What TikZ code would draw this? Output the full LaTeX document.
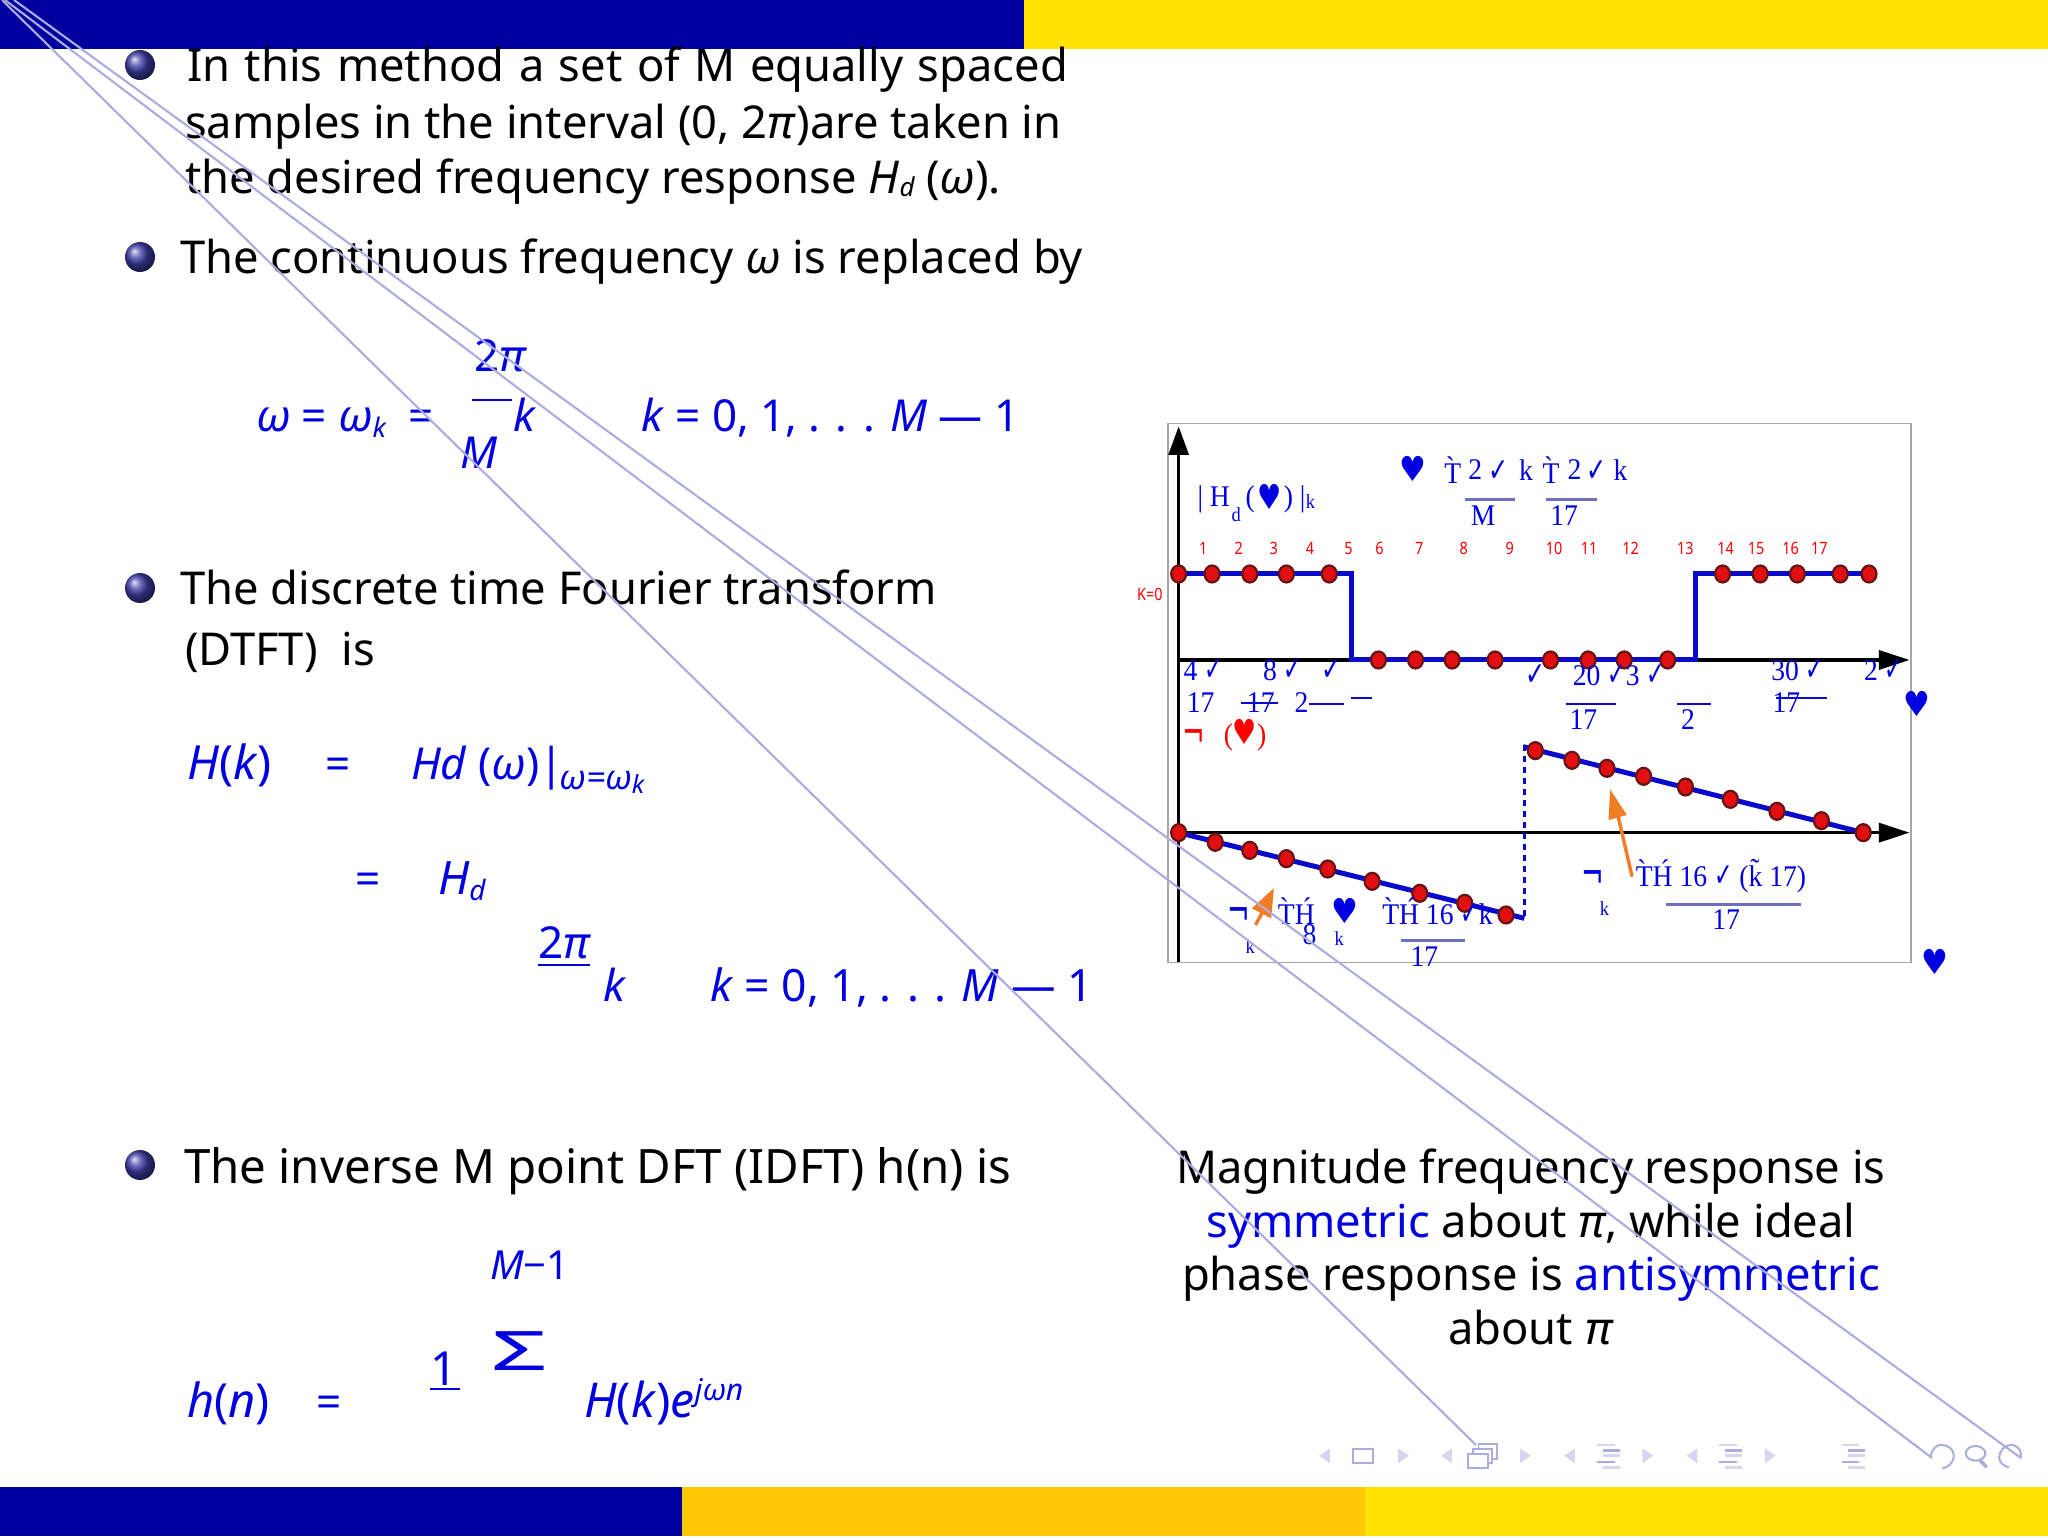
\documentclass[tikz,border=0pt]{standalone}
\usepackage{fontspec}
\usepackage{graphicx}
\usetikzlibrary{shapes.geometric}
\setmainfont{Noto Sans}
\newfontfamily\ser{Liberation Serif}
\newfontfamily\djv{DejaVu Sans}
\definecolor{navy}{RGB}{0,0,160}
\definecolor{gold}{RGB}{255,225,0}
\definecolor{amber}{RGB}{255,200,5}
\definecolor{ink}{RGB}{0,0,225}
\definecolor{plotblue}{RGB}{10,10,205}
\definecolor{lav}{RGB}{172,172,222}
\definecolor{lavl}{RGB}{214,214,238}
\definecolor{arrowor}{RGB}{240,125,35}
\definecolor{dotedge}{RGB}{100,20,20}
\definecolor{dotfill}{RGB}{225,15,15}
\definecolor{fatc}{RGB}{110,110,195}
\definecolor{ballc}{RGB}{62,62,170}
\newcount\tn
\newcommand{\fs}[1]{\fontsize{#1}{#1}\selectfont}
\newcommand{\body}{\fs{45.3}}
\newcommand{\mth}{\fs{44}}
\newcommand{\tx}[4][]{\global\advance\tn by 1 \node[txt,#1] (t\the\tn) at (#2,#3) {#4};}
\newcommand{\pl}[4][]{\global\advance\tn by 1 \node[ptxt,#1] (t\the\tn) at (#2,#3) {#4};}
\newcommand{\nar}[2][.92]{\scalebox{#1}[1]{#2}}
\newcommand{\ck}{{\djv\scalebox{.8}[1.1]{✓}}}
\newcommand{\hrt}{{\djv ♥}}
\newcommand{\hook}{{\djv\scalebox{.9}[1.5]{¬}}}
\newcommand{\navL}[2]{\fill[#2] (#1,85)--(#1,130)--(#1-22,107)--cycle;}
\newcommand{\navR}[2]{\fill[#2] (#1,85)--(#1,130)--(#1+22,107)--cycle;}
\newcommand{\navS}[2]{\foreach \yy/\xa/\xb/\cc in {75/0/35/lavl,91/12/47/#2,107/12/47/lavl,126/0/35/#2,142/12/47/lavl}
  {\fill[\cc] (#1+\xa,\yy-4) rectangle (#1+\xb,\yy+4);}}
\tikzset{
  txt/.style={anchor=base west,inner sep=0pt,outer sep=0pt,text=black,font=\body},
  mtxt/.style={txt,font=\mth,text=ink},
  ptxt/.style={anchor=center,inner sep=0pt,outer sep=0pt,text=ink,font=\ser\fs{30}},
  rednum/.style={ptxt,text=red,font=\fs{17}},
  axisline/.style={line width=3.4pt,black},
  curve/.style={line width=5pt,plotblue},
  bar/.style={line width=1.8pt,plotblue},
  fatbar/.style={line width=3pt,fatc},
  dot/.style={ellipse,draw=dotedge,fill=dotfill,line width=2.2pt,minimum width=15pt,minimum height=17pt,inner sep=0pt},
  ball/.style={circle,ball color=ballc,minimum size=30pt,inner sep=0pt},
  wire/.style={line width=2.1pt,lav}
}
\begin{document}
\begin{tikzpicture}[x=1pt,y=-1pt]
\useasboundingbox (0,0) rectangle (2048,1538);
\fill[white] (0,0) rectangle (2048,1538);
% bars
\fill[navy] (0,0) rectangle (1024,49);
\fill[gold] (1024,0) rectangle (2048,49);
\fill[navy] (0,1487) rectangle (682,1536);
\fill[amber] (682,1487) rectangle (1365,1536);
\fill[gold] (1365,1487) rectangle (2048,1536);
% bullets
\node[ball] (b1) at (140,65) {};
\node[ball] (b2) at (140,257) {};
\node[ball] (b3) at (140,588) {};
\node[ball] (b4) at (140,1165) {};
% left text
\tx{187}{82}{\makebox[881pt][s]{In this method a set of M equally spaced}}
\tx{185}{138.5}{samples in the interval (0, 2\textit{π})are taken in}
\tx{185}{193.5}{the desired frequency response \textit{H\raisebox{-3pt}{\fs{26}d}} (\textit{ω}).}
\tx{180}{274}{The continuous frequency \textit{ω} is replaced by}
\tx{180}{604}{The discrete time Fourier transform}
\tx{185}{665}{(DTFT)\ \ is}
\tx[font=\fs{47.4}]{184}{1183}{The inverse M point DFT (IDFT) h(n) is}
% formula 1
\tx[mtxt]{256}{431}{\textit{ω} = \textit{ω\raisebox{-6pt}{\fs{27}k}}\ \ =}
\tx[mtxt]{474}{371}{2\textit{π}}
\tx[mtxt]{513}{431}{\textit{k}}
\tx[mtxt]{460}{468}{\textit{M}}
\draw[ink,line width=1.3pt] (472,400) -- (512,400);
\tx[mtxt]{641}{431}{\textit{k} = 0, 1, . . . \textit{M} --- 1}
% formula 2
\tx[mtxt,font=\fs{47}]{187}{779}{\textit{H}(\textit{k})}
\tx[mtxt]{325}{779}{=}
\tx[mtxt]{411}{779}{\textit{Hd} (\textit{ω})|\kern-4pt\raisebox{-10pt}{\fs{34}\textit{ω=ω\raisebox{-4pt}{\fs{25}k}}}}
\tx[mtxt]{355}{894}{=}
\tx[mtxt,font=\fs{46}]{438}{894}{\textit{H\raisebox{-6pt}{\fs{28}d}}}
\tx[mtxt]{538}{958}{2\textit{π}}
\draw[ink,line width=1.6pt] (538,965) -- (590,965);
\tx[mtxt]{603}{1001}{\textit{k}}
\tx[mtxt,font=\fs{44.5}]{710}{1001}{\textit{k} = 0, 1, . . . \textit{M} --- 1}
% formula 3
\tx[mtxt,font=\fs{47}]{187}{1417}{\textit{h}(\textit{n})}
\tx[mtxt]{316}{1417}{=}
\tx[mtxt,font=\fs{40}]{490}{1279}{\textit{M}−1}
\tx[mtxt,font=\fs{47}]{430}{1385}{1}
\draw[ink,line width=1.6pt] (430,1389) -- (460,1389);
\tx[mtxt]{491}{1370}{\scalebox{2.9}[1.6]{\fs{34}Σ}}
\tx[mtxt,font=\fs{48}]{584}{1417}{\textit{H}(\textit{k})\textit{e\raisebox{17pt}{\fs{30}jωn}}}
% caption
\tx[anchor=base]{1531}{1183}{Magnitude frequency response is}
\tx[anchor=base]{1531}{1237}{\textcolor{ink}{symmetric} about \textit{π}, while ideal}
\tx[anchor=base]{1531}{1290}{phase response is \textcolor{ink}{antisymmetric}}
\tx[anchor=base]{1531}{1344}{about \textit{π}}
% plot, upper half, coordinates of crop
\begin{scope}[shift={(1130,410)},x=0.523pt,y=-0.3333pt]
\draw[color=gray!70,line width=1.4pt] (73,40) rectangle (1493,1657);
\draw[axisline] (93,120) -- (93,1657);
\fill[black] (93,50) -- (113,135) -- (73,135) -- cycle;
\draw[axisline] (93,750) -- (1440,750);
\fill[black] (1432,720) -- (1490,750) -- (1432,780) -- cycle;
\draw[curve] (93,492) -- (424,492) -- (424,750) -- (1082,750) -- (1082,492) -- (1413,492);
\foreach \x in {93,157,229,299,381,1133,1205,1276,1358,1413} \node[dot] (u\x) at (\x,492) {};
\foreach \x in {475,546,616,698,804,876,945,1028} \node[dot] (v\x) at (\x,750) {};
\foreach \x/\l in {140/1,208/2,275/3,344/4,418/5,477/6,553/7,638/8,726/9,811/10,878/11,957/12,1062/13,1139/14,1197/15,1263/16,1318/17}
  \node[rednum] (n\l) at (\x,415) {\nar[.85]{\l}};
\pl[rednum]{38}{553}{\nar[.85]{K=0}}
\pl{541}{178}{\scalebox{1}[1.15]{\hrt}}
\pl{617}{180}{\nar{T̀}}
\pl{660}{180}{\nar{2}}
\pl{705}{182}{\ck}
\pl{757}{180}{\nar{k}}
\pl{805}{180}{\nar{T̀}}
\pl{850}{180}{\nar{2}}
\pl{892}{182}{\ck}
\pl{938}{180}{\nar{k}}
\draw[fatbar] (640,269) -- (737,269);
\draw[fatbar] (795,269) -- (893,269);
\pl{675}{318}{\nar{M}}
\pl{830}{318}{\nar{17}}
\pl{160}{268}{\nar{| H}}
\pl[font=\ser\fs{20}]{203}{315}{\nar{d}}
\pl{230}{268}{\nar{(}}
\pl{267}{260}{\scalebox{.9}[1.15]{\hrt}}
\pl{303}{268}{\nar{)}}
\pl{330}{268}{\nar{|}}
\pl[font=\ser\fs{20}]{345}{275}{\nar{k}}
\pl{140}{780}{\nar{4 \ck}}
\pl{292}{780}{\nar{8 \ck}}
\pl{385}{780}{\ck}
\pl{775}{795}{\ck}
\pl{935}{795}{\nar{20 \ck3 \ck}}
\pl{1277}{780}{\nar{30 \ck}}
\pl{1441}{780}{\nar{2 \ck}}
\pl{135}{877}{\nar{17}}
\pl{250}{877}{\nar{17}}
\draw[bar] (213,880) -- (283,880);
\pl{328}{877}{\nar{2}}
\draw[bar] (343,882) -- (410,882);
\draw[bar] (422,863) -- (462,863);
\pl{867}{930}{\nar{17}}
\draw[bar] (833,882) -- (930,882);
\pl{1067}{930}{\nar{2}}
\draw[bar] (1045,882) -- (1110,882);
\pl{1255}{877}{\nar{17}}
\draw[bar] (1235,863) -- (1332,863);
\pl{1505}{882}{\scalebox{1}[1.15]{\hrt}}
\end{scope}
% plot, lower half
\begin{scope}[shift={(1130,700)},x=0.523pt,y=-0.3333pt]
\pl[text=red]{122}{118}{\hook}
\pl[text=red]{220}{105}{\nar{(}\scalebox{.9}[1.15]{\hrt}\nar{)}}
\draw[axisline] (93,398) -- (1440,398);
\fill[black] (1432,368) -- (1490,398) -- (1432,428) -- cycle;
\draw[line width=3pt,plotblue,dash pattern=on 6pt off 5pt] (754,135) -- (754,655);
\draw[curve] (93,398) -- (754,655);
\draw[curve] (752,140) -- (1402,398);
\foreach \i/\x/\y in {a/93/398,b/163/427,c/229/451,d/299/476,e/378/507,f/463/544,g/554/580,h/640/610,i/719/645,
  j/775/152,k/845/181,l/912/205,m/982/229,n/1062/261,o/1148/298,p/1237/334,q/1322/362,r/1402/398}
  \node[dot] (w\i) at (\x,\y) {};
\draw[arrowor,line width=3.4pt] (960,530) -- (932,340);
\fill[arrowor] (918,268) -- (950,345) -- (915,360) -- cycle;
\draw[arrowor,line width=3.4pt] (240,675) -- (252,640);
\fill[arrowor] (275,565) -- (270,655) -- (233,625) -- cycle;
\pl{208}{652}{\hook}
\pl[font=\ser\fs{20}]{230}{740}{\nar{k}}
\pl{318}{632}{\nar{T̀H́}}
\pl{343}{703}{\nar{8}}
\pl{411}{632}{\scalebox{1}[1.15]{\hrt}}
\pl[font=\ser\fs{20}]{400}{715}{\nar{k}}
\pl{588}{635}{\nar{T̀H́ 16 \ck k}}
\draw[fatbar] (518,723) -- (640,723);
\pl{563}{770}{\nar{17}}
\pl{885}{540}{\hook}
\pl[font=\ser\fs{20}]{907}{627}{\nar{k}}
\pl{1130}{527}{\nar{T̀H́ 16 \ck{} (k̃ 17)}}
\draw[fatbar,line width=3.4pt] (1025,613) -- (1283,613);
\pl{1140}{660}{\nar{17}}
\pl{1540}{785}{\scalebox{1}[1.15]{\hrt}}
\end{scope}
% navigation symbols
\begin{scope}[shift={(1280,1420)},x=0.4898pt,y=-0.3333pt]
\navL{102}{lavl}
\draw[lav,line width=2pt] (150,88) rectangle (190,130);
\navR{241}{lavl}
\navL{351}{lavl}
\draw[lav,line width=1.7pt,fill=white] (405,73) rectangle (443,118);
\draw[lav,line width=1.7pt,fill=white] (394,88) rectangle (433,128);
\draw[lav,line width=1.7pt,fill=white] (384,103) rectangle (425,145);
\navR{490}{lavl}
\navL{602}{lavl}
\navS{648}{lav}
\navR{740}{lavl}
\navL{852}{lavl}
\navS{897}{lav}
\navR{990}{lavl}
\navS{1148}{lav}
\draw[lav,line width=2pt] (1328,115) .. controls (1330,85) and (1342,72) .. (1352,75) .. controls (1372,78) and (1378,100) .. (1375,115) .. controls (1372,130) and (1365,142) .. (1352,145);
\draw[lav,line width=2pt] (1420,100) ellipse[x radius=20,y radius=22];
\draw[lav,line width=3.5pt] (1427,118) -- (1443,142);
\draw[lav,line width=2pt] (1488,142) .. controls (1470,135) and (1465,115) .. (1470,100) .. controls (1475,80) and (1488,72) .. (1497,75) .. controls (1510,80) and (1515,100) .. (1512,115);
\end{scope}
% long link lines
\coordinate (sa) at (2,0); \coordinate (ea) at (1476,1445);
\coordinate (sb) at (5,0); \coordinate (eb) at (1932,1458);
\coordinate (sc) at (14,0); \coordinate (ec) at (2021,1458);
\draw[wire] (sa) -- (ea);
\draw[wire] (sb) -- (eb);
\draw[wire] (sc) -- (ec);
\end{tikzpicture}
\end{document}
